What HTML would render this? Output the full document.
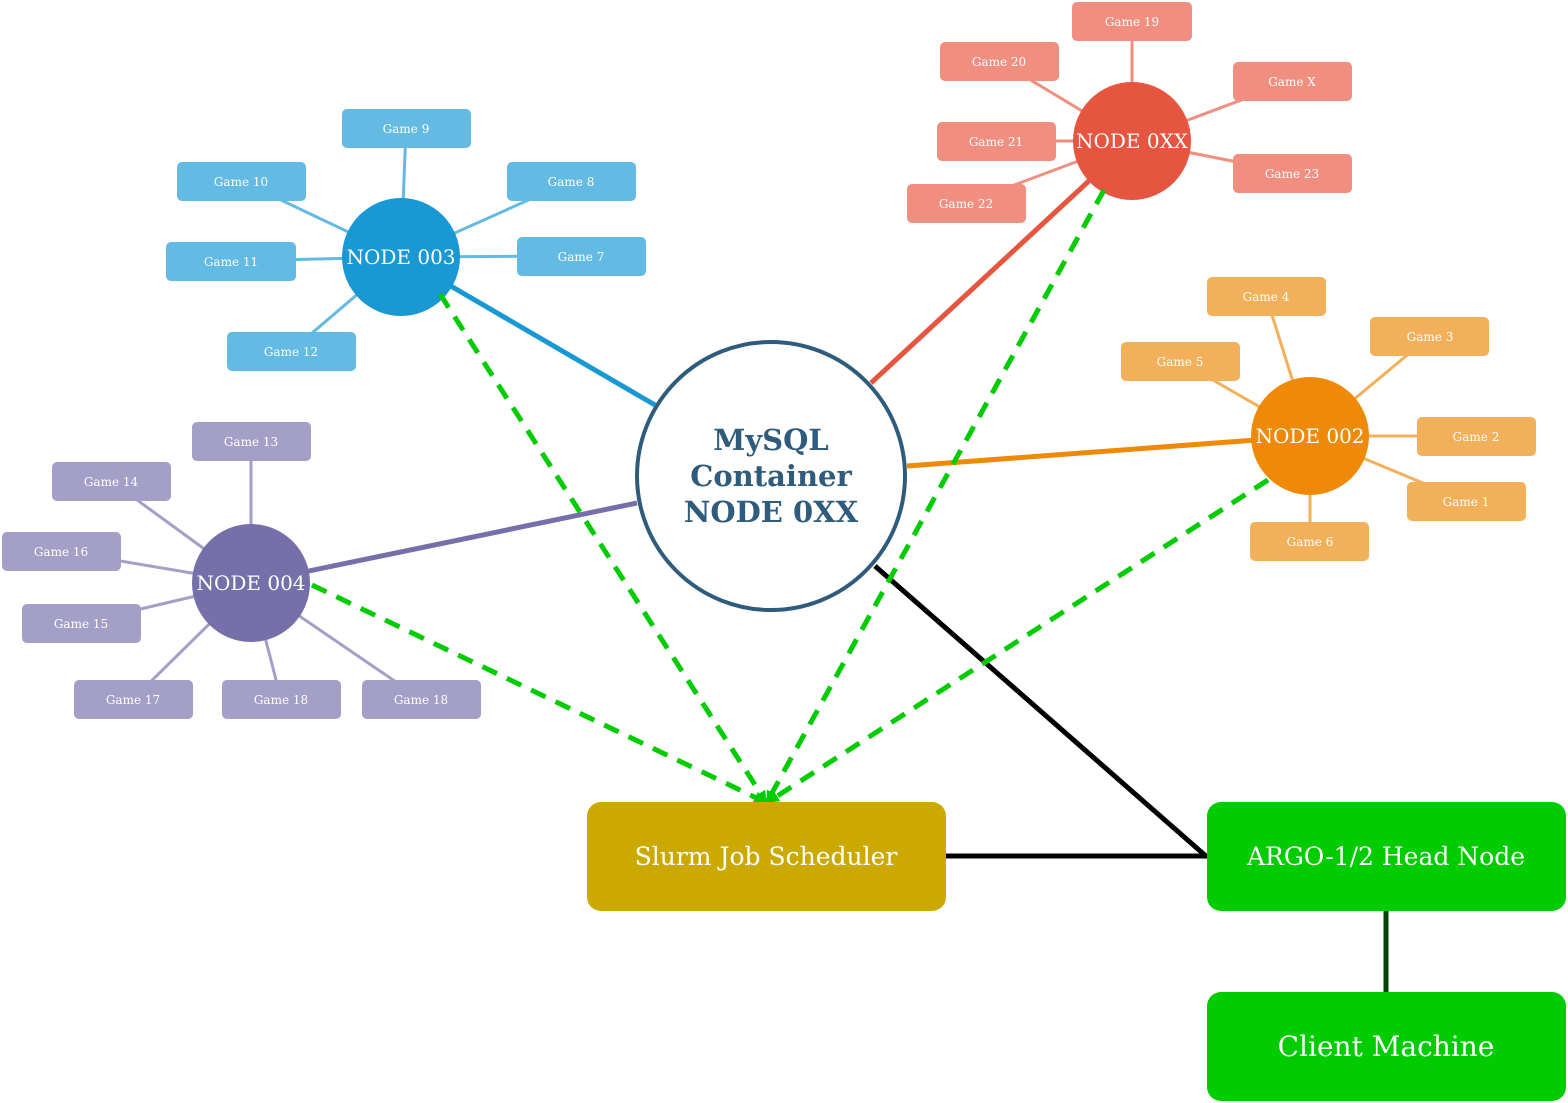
<!DOCTYPE html>
<html><head><meta charset="utf-8"><style>
html,body{margin:0;padding:0;background:#fff;}
svg{display:block;}
text{font-family:"DejaVu Serif","Liberation Serif",serif;}
</style></head><body>
<svg width="1568" height="1103" viewBox="0 0 1568 1103" xmlns="http://www.w3.org/2000/svg">
<defs>
<marker id="ah" viewBox="0 0 10 10" refX="9" refY="5" markerWidth="2.4" markerHeight="2.4" orient="auto"><path d="M0,0 L10,5 L0,10 z" fill="#00cc00"/></marker>
</defs>
<g stroke-width="3" fill="none">
<g stroke="#63bae2">
<line x1="401" y1="257" x2="406" y2="128"/><line x1="401" y1="257" x2="241" y2="181"/><line x1="401" y1="257" x2="571" y2="181"/>
<line x1="401" y1="257" x2="231" y2="261"/><line x1="401" y1="257" x2="581" y2="256"/><line x1="401" y1="257" x2="291" y2="351"/>
</g>
<g stroke="#f08e80">
<line x1="1132" y1="141" x2="1132" y2="21"/><line x1="1132" y1="141" x2="999" y2="61"/><line x1="1132" y1="141" x2="1292" y2="81"/>
<line x1="1132" y1="141" x2="996" y2="141"/><line x1="1132" y1="141" x2="1292" y2="173"/><line x1="1132" y1="141" x2="966" y2="203"/>
</g>
<g stroke="#f3b05a">
<line x1="1310" y1="436" x2="1266" y2="296"/><line x1="1310" y1="436" x2="1430" y2="336"/><line x1="1310" y1="436" x2="1180" y2="361"/>
<line x1="1310" y1="436" x2="1476" y2="436"/><line x1="1310" y1="436" x2="1466" y2="501"/><line x1="1310" y1="436" x2="1310" y2="541"/>
</g>
<g stroke="#a39fc7">
<line x1="251" y1="583" x2="251" y2="441"/><line x1="251" y1="583" x2="111" y2="481"/><line x1="251" y1="583" x2="61" y2="551"/>
<line x1="251" y1="583" x2="81" y2="623"/><line x1="251" y1="583" x2="133" y2="699"/><line x1="251" y1="583" x2="281" y2="699"/><line x1="251" y1="583" x2="421" y2="699"/>
</g>
</g>
<g stroke-width="5" fill="none">
<line x1="401" y1="257" x2="655" y2="405" stroke="#1899d3"/>
<line x1="1132" y1="141" x2="871" y2="383" stroke="#e65540"/>
<line x1="1310" y1="436" x2="907" y2="466" stroke="#ef8908"/>
<line x1="251" y1="583" x2="637" y2="503" stroke="#7570aa"/>
<line x1="875" y1="566" x2="1207" y2="857" stroke="#000"/>
<line x1="945" y1="856" x2="1207" y2="856" stroke="#000"/>
<line x1="1386" y1="910" x2="1386" y2="992" stroke="#004400"/>
</g>
<circle cx="771" cy="476" r="134" fill="#fff" stroke="#2f5b7c" stroke-width="4"/>
<circle cx="401" cy="257" r="59" fill="#1899d3"/>
<circle cx="1132" cy="141" r="59" fill="#e65540"/>
<circle cx="1310" cy="436" r="59" fill="#ef8908"/>
<circle cx="251" cy="583" r="59" fill="#7570aa"/>
<g stroke="#00cc00" stroke-width="5" fill="none" stroke-dasharray="16 11" marker-end="url(#ah)">
<line x1="440" y1="294" x2="766" y2="802"/>
<line x1="1104" y1="190" x2="767" y2="802"/>
<line x1="1268" y1="480" x2="768" y2="802"/>
<line x1="312" y1="585" x2="765" y2="802"/>
</g>
<g fill="#fff" font-size="20" text-anchor="middle">
<text x="401" y="264">NODE 003</text>
<text x="1132" y="148">NODE 0XX</text>
<text x="1310" y="443">NODE 002</text>
<text x="251" y="590">NODE 004</text>
</g>
<g fill="#2f5b7c" font-size="29" font-weight="bold" text-anchor="middle">
<text x="771" y="450">MySQL</text>
<text x="771" y="486">Container</text>
<text x="771" y="522">NODE 0XX</text>
</g>
<g font-size="12" fill="#fff" text-anchor="middle">
<g>
<rect x="342" y="109" width="129" height="39" rx="5" fill="#63bae2"/><text x="406" y="133">Game 9</text>
<rect x="177" y="162" width="129" height="39" rx="5" fill="#63bae2"/><text x="241" y="186">Game 10</text>
<rect x="507" y="162" width="129" height="39" rx="5" fill="#63bae2"/><text x="571" y="186">Game 8</text>
<rect x="166" y="242" width="130" height="39" rx="5" fill="#63bae2"/><text x="231" y="266">Game 11</text>
<rect x="517" y="237" width="129" height="39" rx="5" fill="#63bae2"/><text x="581" y="261">Game 7</text>
<rect x="227" y="332" width="129" height="39" rx="5" fill="#63bae2"/><text x="291" y="356">Game 12</text>
</g>
<g>
<rect x="1072" y="2" width="120" height="39" rx="5" fill="#f08e80"/><text x="1132" y="26">Game 19</text>
<rect x="940" y="42" width="119" height="39" rx="5" fill="#f08e80"/><text x="999" y="66">Game 20</text>
<rect x="1233" y="62" width="119" height="39" rx="5" fill="#f08e80"/><text x="1292" y="86">Game X</text>
<rect x="937" y="122" width="119" height="39" rx="5" fill="#f08e80"/><text x="996" y="146">Game 21</text>
<rect x="1233" y="154" width="119" height="39" rx="5" fill="#f08e80"/><text x="1292" y="178">Game 23</text>
<rect x="907" y="184" width="119" height="39" rx="5" fill="#f08e80"/><text x="966" y="208">Game 22</text>
</g>
<g>
<rect x="1207" y="277" width="119" height="39" rx="5" fill="#f3b05a"/><text x="1266" y="301">Game 4</text>
<rect x="1370" y="317" width="119" height="39" rx="5" fill="#f3b05a"/><text x="1430" y="341">Game 3</text>
<rect x="1121" y="342" width="119" height="39" rx="5" fill="#f3b05a"/><text x="1180" y="366">Game 5</text>
<rect x="1417" y="417" width="119" height="39" rx="5" fill="#f3b05a"/><text x="1476" y="441">Game 2</text>
<rect x="1407" y="482" width="119" height="39" rx="5" fill="#f3b05a"/><text x="1466" y="506">Game 1</text>
<rect x="1250" y="522" width="119" height="39" rx="5" fill="#f3b05a"/><text x="1310" y="546">Game 6</text>
</g>
<g>
<rect x="192" y="422" width="119" height="39" rx="5" fill="#a39fc7"/><text x="251" y="446">Game 13</text>
<rect x="52" y="462" width="119" height="39" rx="5" fill="#a39fc7"/><text x="111" y="486">Game 14</text>
<rect x="2" y="532" width="119" height="39" rx="5" fill="#a39fc7"/><text x="61" y="556">Game 16</text>
<rect x="22" y="604" width="119" height="39" rx="5" fill="#a39fc7"/><text x="81" y="628">Game 15</text>
<rect x="74" y="680" width="119" height="39" rx="5" fill="#a39fc7"/><text x="133" y="704">Game 17</text>
<rect x="222" y="680" width="119" height="39" rx="5" fill="#a39fc7"/><text x="281" y="704">Game 18</text>
<rect x="362" y="680" width="119" height="39" rx="5" fill="#a39fc7"/><text x="421" y="704">Game 18</text>
</g>
</g>
<rect x="587" y="802" width="359" height="109" rx="14" fill="#cca900"/>
<rect x="1207" y="802" width="359" height="109" rx="14" fill="#00cc00"/>
<rect x="1207" y="992" width="359" height="109" rx="14" fill="#00cc00"/>
<g fill="#fff" text-anchor="middle">
<text x="766" y="865" font-size="25">Slurm Job Scheduler</text>
<text x="1386" y="865" font-size="25">ARGO-1/2 Head Node</text>
<text x="1386" y="1056" font-size="28">Client Machine</text>
</g>
</svg>
</body></html>
